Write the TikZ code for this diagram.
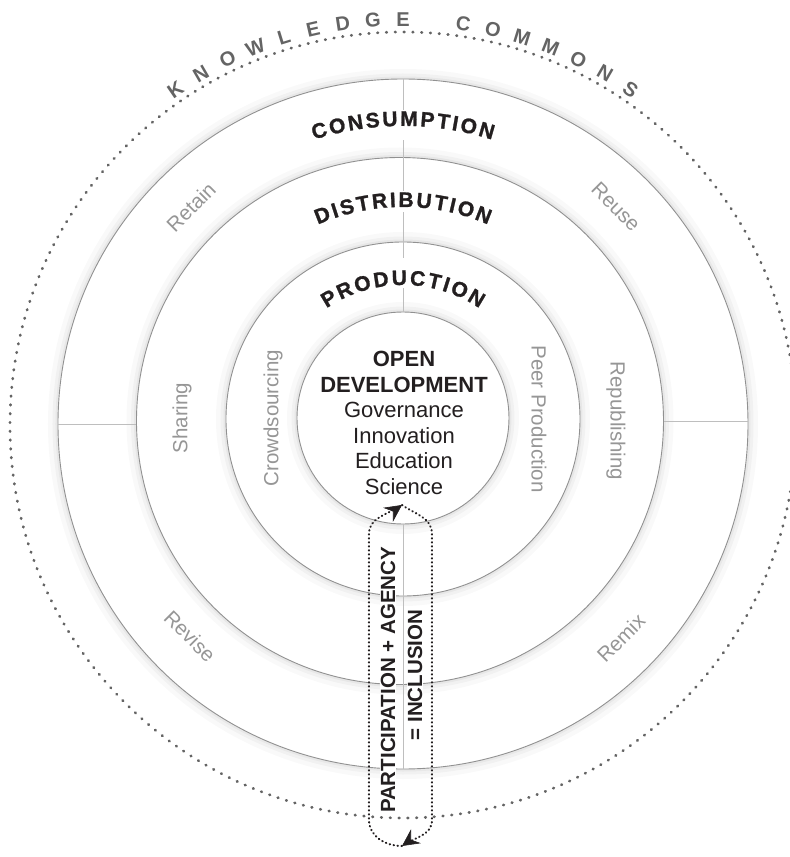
\documentclass[tikz,border=0pt]{standalone}
\usepackage{fontspec}
\setmainfont{Liberation Sans}
\newfontfamily\arcfont{Liberation Sans}[WordSpace=0.4,BoldFeatures={FakeBold=1.2}]
\usetikzlibrary{decorations.text,arrows.meta}
\definecolor{ink}{RGB}{35,31,32}
\definecolor{ringline}{RGB}{145,145,145}
\definecolor{divline}{RGB}{190,190,190}
\definecolor{softgrey}{RGB}{150,150,150}
\definecolor{commonsgrey}{RGB}{100,100,100}
\newcommand{\arcstyle}{\arcfont\bfseries\fontsize{21pt}{21pt}\selectfont}

\begin{document}
\begin{tikzpicture}[x=1pt,y=1pt,
ring/.style={shape=circle,draw=ringline,line width=0.9pt,fill=white,inner sep=0pt,
  preaction={draw=black,draw opacity=0.025,line width=20pt},
  preaction={draw=black,draw opacity=0.03,line width=11pt},
  preaction={draw=black,draw opacity=0.04,line width=5pt}},
divider/.style={draw=divline,line width=0.9pt},
soft/.style={text=softgrey,font=\fontsize{20.5pt}{24pt}\selectfont},
commons/.style={text=commonsgrey,font=\bfseries\fontsize{20pt}{20pt}\selectfont,anchor=base,inner sep=0pt},
loopdots/.style={draw=ink,line width=2pt,line cap=round,dash pattern=on 0.6pt off 3.4pt},
slogan/.style={text=ink,font=\bfseries\fontsize{20.5pt}{24pt}\selectfont,fill=white,inner sep=1pt,rotate=90},
looptip/.style={draw=ink,fill=ink,line width=0.6pt,-{Stealth[length=17pt,width=17pt,inset=6pt]}}]
\useasboundingbox (-403,-435) rectangle (387,422);

\node[shape=circle,draw=commonsgrey,line width=2.8pt,line cap=round,dash pattern=on 0.6pt off 8.2pt,
  minimum size=786pt,inner sep=0pt] (commons) at (0,-3) {};

\node[ring,minimum size=690pt] (cons) at (0,-2) {};
\node[ring,minimum size=527pt] (dist) at (-3,1) {};
\node[ring,minimum size=354pt] (prod) at (0,3) {};
\node[ring,minimum size=212pt] (core) at (0,4) {};

\draw[divider] (cons.north) -- (core.north);
\draw[divider] (core.south) -- (core.south |- cons.south);
\draw[divider] (cons.west) -- (cons.west -| dist.west);
\draw[divider] (dist.east) -- (dist.east -| cons.east);

\fill[white] (-7,282) rectangle (7,312);
\fill[white] (-7,210) rectangle (7,231);
\fill[white] (-7,134) rectangle (7,164);

\path[decorate,decoration={text along path,text align=center,text color=ink,
  text={|\arcstyle|C O N S U M P T I O N}}] (160:296pt) arc[start angle=160,end angle=20,radius=296pt];
\path[decorate,decoration={text along path,text align=center,text color=ink,
  text={|\arcstyle|D I S T R I B U T I O N}}] (160:215pt) arc[start angle=160,end angle=20,radius=215pt];
\path[decorate,decoration={text along path,text align=center,text color=ink,
  text={|\arcstyle|P R O D U C T I O N}}] (160:137pt) arc[start angle=160,end angle=20,radius=137pt];

\foreach \ch [count=\i from 0] in {K,N,O,W,L,E,D,G,E}
  \node[commons,rotate={124.4-4.3*\i-90}] (know\i) at ({124.4-4.3*\i}:396pt) {\ch};
\foreach \ch [count=\i from 0] in {C,O,M,M,O,N,S}
  \node[commons,rotate={81.4-4.3*\i-90}] (comm\i) at ({81.4-4.3*\i}:396pt) {\ch};

\node[soft,rotate=45] (retain) at (-212,215) {Retain};
\node[soft,rotate=-45] (reuse) at (213,215) {Reuse};
\node[soft,rotate=-45] (revise) at (-213,-214) {Revise};
\node[soft,rotate=45] (remix) at (218,-216) {Remix};
\node[soft,rotate=90] (sharing) at (-221,4) {Sharing};
\node[soft,rotate=90] (crowd) at (-130,4) {Crowdsourcing};
\node[soft,rotate=-90] (peer) at (136,3) {Peer Production};
\node[soft,rotate=-90] (repub) at (213,1) {Republishing};

\node[text=ink,align=center,font=\fontsize{22pt}{25.5pt}\selectfont] (devtext) at (1,-1)
  {\textbf{OPEN}\\\textbf{DEVELOPMENT}\\Governance\\Innovation\\Education\\Science};

\node[slogan] (partic) at (-15,-258) {PARTICIPATION + AGENCY};
\node[slogan] (incl) at (12,-253) {= INCLUSION};

\coordinate (looptop) at (-1,-83);
\coordinate (loopbot) at (-1,-424);
\coordinate (loopnw) at (-34,-112);
\coordinate (loopsw) at (-34,-398);
\coordinate (loopne) at (29,-112);
\coordinate (loopse) at (29,-398);
\draw[loopdots] (loopbot) to[out=180,in=-90] (loopsw) -- (loopnw) to[out=90,in=215] (looptop);
\draw[loopdots] (looptop) to[out=-35,in=90] (loopne) -- (loopse) to[out=-90,in=35] (loopbot);
\draw[looptip] ([shift={(215:3pt)}]looptop) -- (looptop);
\draw[looptip] ([shift={(35:3pt)}]loopbot) -- (loopbot);

\end{tikzpicture}
\end{document}
